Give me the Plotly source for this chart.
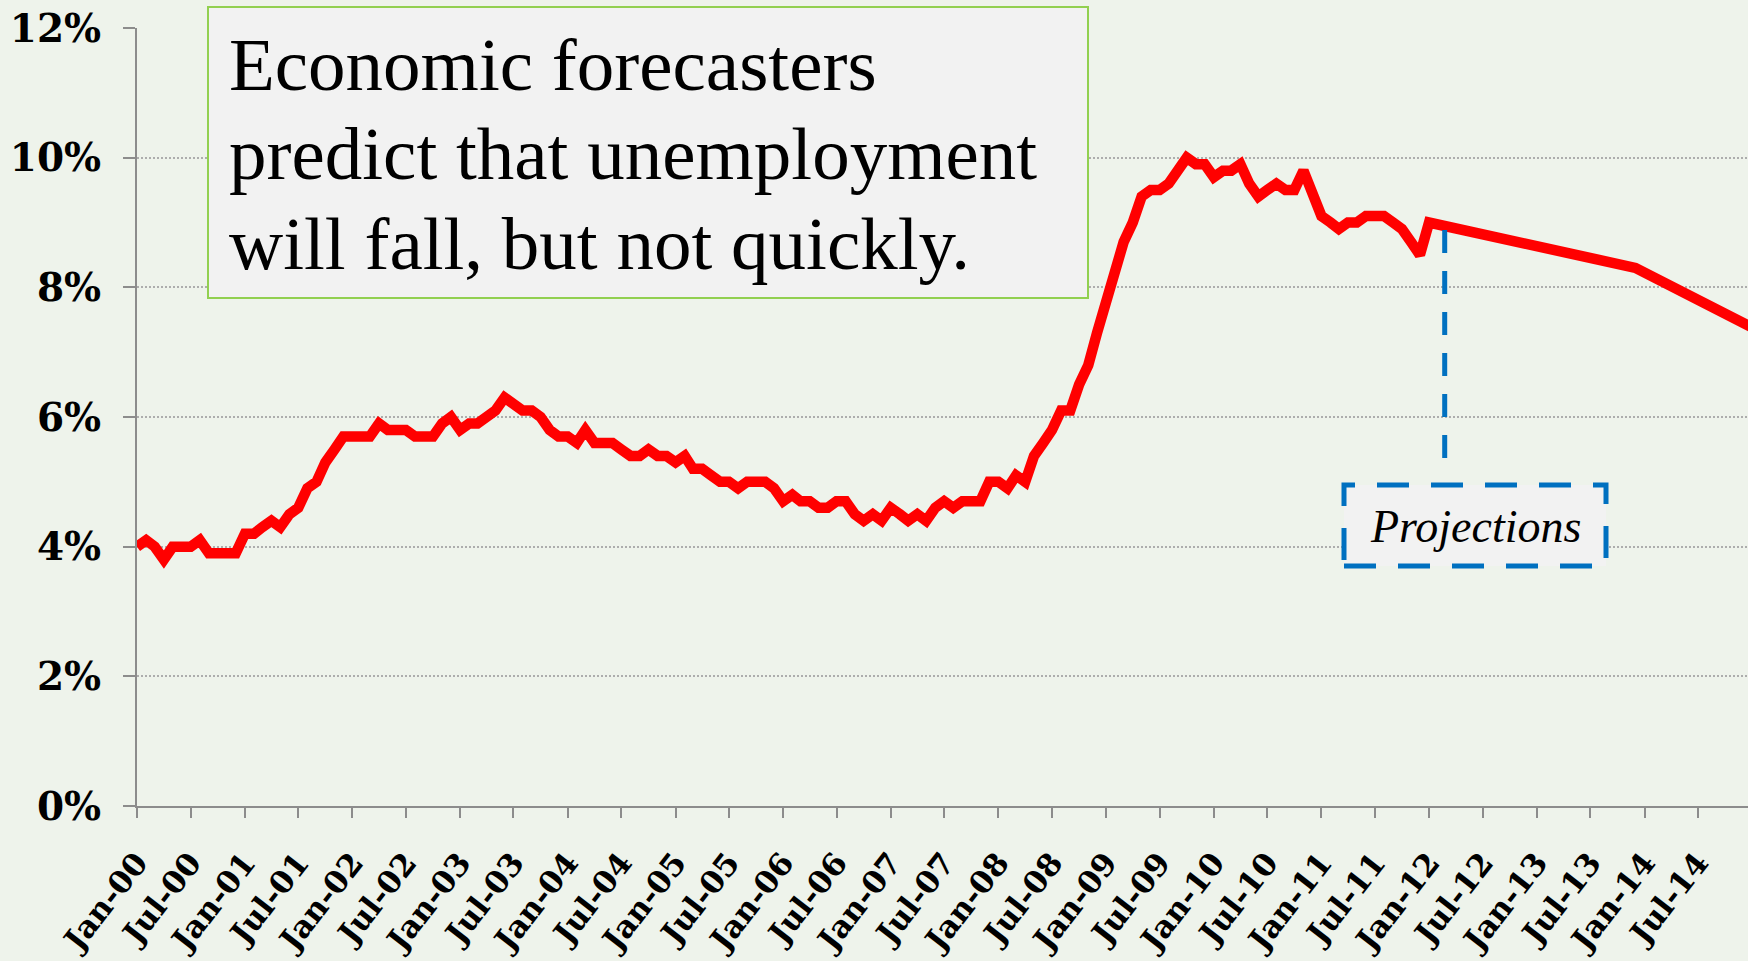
import pandas as pd
import plotly.graph_objects as go

# ---- data (US unemployment rate, %, monthly) ----
u2000 = [4.0, 4.1, 4.0, 3.8, 4.0, 4.0, 4.0, 4.1, 3.9, 3.9, 3.9, 3.9]
u2001 = [4.2, 4.2, 4.3, 4.4, 4.3, 4.5, 4.6, 4.9, 5.0, 5.3, 5.5, 5.7]
u2002 = [5.7, 5.7, 5.7, 5.9, 5.8, 5.8, 5.8, 5.7, 5.7, 5.7, 5.9, 6.0]
u2003 = [5.8, 5.9, 5.9, 6.0, 6.1, 6.3, 6.2, 6.1, 6.1, 6.0, 5.8, 5.7]
u2004 = [5.7, 5.6, 5.8, 5.6, 5.6, 5.6, 5.5, 5.4, 5.4, 5.5, 5.4, 5.4]
u2005 = [5.3, 5.4, 5.2, 5.2, 5.1, 5.0, 5.0, 4.9, 5.0, 5.0, 5.0, 4.9]
u2006 = [4.7, 4.8, 4.7, 4.7, 4.6, 4.6, 4.7, 4.7, 4.5, 4.4, 4.5, 4.4]
u2007 = [4.6, 4.5, 4.4, 4.5, 4.4, 4.6, 4.7, 4.6, 4.7, 4.7, 4.7, 5.0]
u2008 = [5.0, 4.9, 5.1, 5.0, 5.4, 5.6, 5.8, 6.1, 6.1, 6.5, 6.8, 7.3]
u2009 = [7.8, 8.3, 8.7, 9.0, 9.4, 9.5, 9.5, 9.6, 9.8, 10.0, 9.9, 9.9]
u2010 = [9.7, 9.8, 9.8, 9.9, 9.6, 9.4, 9.5, 9.6, 9.5, 9.5, 9.8, 9.4]
u2011 = [9.1, 9.0, 8.9, 9.0, 9.0, 9.1, 9.1, 9.1, 9.0, 8.9, 8.7, 8.5]
hist_start = "2000-01-01"

proj_dates = ["2012-01-01", "2013-12-01", "2015-01-01"]
proj_values = [9.0, 8.3, 7.38]

y_ticks = [0, 2, 4, 6, 8, 10, 12]
title_lines = ["Economic forecasters", "predict that unemployment", "will fall, but not quickly."]
proj_label = "Projections"

hist_values = u2000 + u2001 + u2002 + u2003 + u2004 + u2005 + u2006 + u2007 + u2008 + u2009 + u2010 + u2011
hist_dates = list(pd.date_range(hist_start, periods=len(hist_values), freq="MS").strftime("%Y-%m-%d"))

x_all = hist_dates + proj_dates
y_all = hist_values + proj_values

# ---- layout geometry (pixels) ----
W, H = 1748, 961
L, R, T, B = 137, 0, 28, 155
PW, PH = W - L - R, H - T - B


def px(xp):
    return (xp - L) / PW


def py(yp):
    return (H - B - yp) / PH


BG = "#eef3eb"
AX = "#8c8c8c"

fig = go.Figure()
fig.add_trace(go.Scatter(x=x_all, y=y_all, mode="lines",
                         line=dict(color="#ff0000", width=10.5),
                         hoverinfo="skip", showlegend=False))

fig.update_layout(
    width=W, height=H, autosize=False,
    margin=dict(l=L, r=R, t=T, b=B, pad=0),
    paper_bgcolor=BG, plot_bgcolor=BG,
    showlegend=False,
    xaxis=dict(
        type="date",
        range=["2000-01-01", "2014-12-18"],
        tick0="2000-01-01", dtick="M6", tickformat="%b-%y",
        tickangle=-52,
        automargin=False,
        showgrid=False, zeroline=False,
        showline=True, linecolor=AX, linewidth=2,
        ticks="outside", ticklen=10, tickwidth=2, tickcolor=AX,
        ticklabelstandoff=14,
        tickfont=dict(family="DejaVu Serif", size=31, color="black", weight="bold"),
    ),
    yaxis=dict(
        range=[0, 12], tickvals=y_ticks,
        ticktext=[f"{v}%" for v in y_ticks],
        automargin=False,
        showgrid=True, gridcolor="#adadad", gridwidth=2, griddash="2px,2px",
        zeroline=False,
        showline=True, linecolor=AX, linewidth=2,
        ticks="outside", ticklen=12, tickwidth=2, tickcolor=AX,
        ticklabelstandoff=14,
        tickfont=dict(family="DejaVu Serif", size=39, color="black", weight="bold"),
    ),
)

# Title box
fig.add_shape(type="rect", xref="paper", yref="paper",
              x0=px(208), x1=px(1088), y0=py(298), y1=py(7),
              fillcolor="#f2f2f2", line=dict(color="#92d050", width=2), layer="above")
for line_text, base in zip(title_lines, [89.3, 178.3, 268.3]):
    fig.add_annotation(xref="paper", yref="paper", x=px(227), y=py(base - 25),
                       xanchor="left", yanchor="middle", showarrow=False,
                       text=line_text,
                       font=dict(family="Liberation Serif", size=75, color="black"))

# Projections marker
fig.add_shape(type="line", xref="paper", yref="paper",
              x0=px(1444.7), x1=px(1444.7), y0=py(230), y1=py(466),
              line=dict(color="#0070c0", width=5, dash="23px,18px"), layer="above")
fig.add_shape(type="rect", xref="paper", yref="paper",
              x0=px(1344), x1=px(1606), y0=py(566), y1=py(485),
              fillcolor="#f2f2f2", line=dict(color="#0070c0", width=5, dash="32px,22px"),
              layer="above")
fig.add_annotation(xref="paper", yref="paper", x=px(1475), y=py(542 - 15.5),
                   xanchor="center", yanchor="middle", showarrow=False,
                   text=proj_label,
                   font=dict(family="Liberation Serif", size=46, color="black", style="italic"))

fig.write_html(
    "out.html",
    config={"displayModeBar": False},
    post_script="document.body.style.margin='0px';document.body.style.background='" + BG + "';document.body.style.overflow='hidden';",
)
